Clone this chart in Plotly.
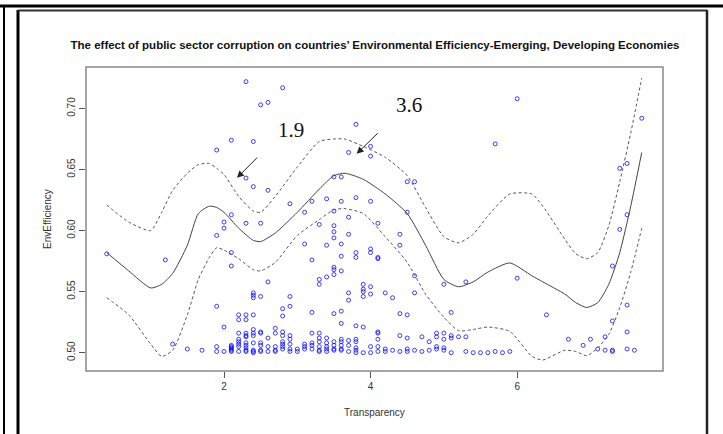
import plotly.graph_objects as go

# ---------------- data ----------------
levels = [0.4, 1.2, 1.3, 1.5, 1.7, 1.9, 2.0, 2.1, 2.2, 2.3, 2.4, 2.5, 2.6, 2.7, 2.8, 2.9,
          3.0, 3.1, 3.2, 3.3, 3.4, 3.5, 3.6, 3.7, 3.8, 3.9, 4.0, 4.1, 4.2, 4.3, 4.4, 4.5,
          4.6, 4.7, 4.8, 4.9, 5.0, 5.1, 5.2, 5.3, 5.4, 5.5, 5.6, 5.7, 5.8, 5.9, 6.0, 6.4,
          6.7, 6.9, 7.0, 7.1, 7.2, 7.3, 7.4, 7.5, 7.6, 7.7]
env_at_level = [
    [0.581], [0.576], [0.507], [0.503], [0.502],
    [0.666, 0.596, 0.538, 0.505, 0.501],
    [0.607, 0.602, 0.521, 0.501],
    [0.674, 0.613, 0.582, 0.571, 0.506, 0.505, 0.504, 0.503, 0.502, 0.501],
    [0.531, 0.527, 0.516, 0.511, 0.509, 0.507, 0.505, 0.501],
    [0.722, 0.643, 0.606, 0.531, 0.527, 0.516, 0.514, 0.513, 0.508, 0.506, 0.504, 0.502, 0.501],
    [0.673, 0.636, 0.549, 0.547, 0.545, 0.531, 0.519, 0.516, 0.514, 0.508, 0.502, 0.501, 0.500],
    [0.703, 0.606, 0.546, 0.517, 0.516, 0.508, 0.506, 0.502, 0.501],
    [0.705, 0.633, 0.558, 0.512, 0.505, 0.501],
    [0.520, 0.516, 0.505, 0.502, 0.501],
    [0.717, 0.536, 0.530, 0.517, 0.514, 0.509, 0.507, 0.505, 0.503],
    [0.622, 0.546, 0.538, 0.514, 0.511, 0.507, 0.503, 0.501],
    [0.503, 0.501],
    [0.615, 0.589, 0.507, 0.505, 0.503],
    [0.624, 0.576, 0.533, 0.516, 0.508, 0.506, 0.503],
    [0.605, 0.560, 0.556, 0.516, 0.512, 0.509, 0.505, 0.502, 0.501],
    [0.626, 0.588, 0.562, 0.512, 0.508, 0.505, 0.503, 0.501],
    [0.644, 0.616, 0.604, 0.599, 0.594, 0.570, 0.568, 0.564, 0.532, 0.509, 0.506, 0.503, 0.502],
    [0.644, 0.624, 0.589, 0.579, 0.567, 0.534, 0.524, 0.511, 0.509, 0.506, 0.503, 0.502],
    [0.664, 0.611, 0.597, 0.549, 0.543, 0.510, 0.506, 0.501],
    [0.687, 0.627, 0.582, 0.578, 0.522, 0.511, 0.509, 0.504, 0.502, 0.500],
    [0.556, 0.552, 0.550, 0.546, 0.521, 0.500],
    [0.669, 0.661, 0.624, 0.585, 0.582, 0.554, 0.548, 0.505, 0.500],
    [0.606, 0.578, 0.577, 0.517, 0.516, 0.511, 0.505, 0.501],
    [0.549, 0.503, 0.501],
    [0.545, 0.502],
    [0.597, 0.588, 0.532, 0.514, 0.501],
    [0.640, 0.615, 0.531, 0.512, 0.503, 0.501],
    [0.640, 0.563, 0.549, 0.502],
    [0.513, 0.501],
    [0.509, 0.502],
    [0.516, 0.513, 0.505, 0.503],
    [0.556, 0.516, 0.511, 0.504, 0.502],
    [0.533, 0.514, 0.512, 0.500],
    [0.513],
    [0.558, 0.513, 0.501],
    [0.500], [0.500], [0.500],
    [0.671, 0.501],
    [0.500], [0.501],
    [0.708, 0.561],
    [0.531], [0.511], [0.506], [0.511], [0.503],
    [0.513, 0.502],
    [0.571, 0.526, 0.502, 0.501],
    [0.651, 0.601],
    [0.655, 0.613, 0.539, 0.517, 0.503],
    [0.502],
    [0.692],
]

fit_x = [0.4, 0.7, 1.0, 1.15, 1.3, 1.5, 1.65, 1.8, 1.9, 2.0, 2.2, 2.4, 2.5, 2.7, 3.0, 3.3,
         3.5, 3.65, 3.9, 4.2, 4.5, 4.75, 5.0, 5.2, 5.4, 5.6, 5.9, 6.2, 6.35, 6.65, 6.8,
         6.95, 7.1, 7.25, 7.4, 7.55, 7.7]
fit_y = [0.582, 0.567, 0.553, 0.556, 0.565, 0.588, 0.614, 0.620, 0.619, 0.615, 0.602,
         0.592, 0.591, 0.598, 0.615, 0.634, 0.645, 0.647, 0.642, 0.630, 0.614, 0.588,
         0.560, 0.554, 0.558, 0.566, 0.5735, 0.563, 0.558, 0.548, 0.541, 0.537, 0.541,
         0.556, 0.582, 0.620, 0.664]
upper_y = [0.621, 0.607, 0.600, 0.615, 0.633, 0.647, 0.654, 0.655, 0.651, 0.646, 0.628,
           0.616, 0.615, 0.628, 0.652, 0.673, 0.675, 0.675, 0.669, 0.660, 0.645, 0.619,
           0.595, 0.590, 0.597, 0.612, 0.630, 0.630, 0.620, 0.593, 0.581, 0.577, 0.582,
           0.604, 0.640, 0.680, 0.725]
lower_y = [0.545, 0.531, 0.507, 0.497, 0.502, 0.531, 0.560, 0.578, 0.586, 0.584, 0.577,
           0.568, 0.567, 0.574, 0.596, 0.609, 0.617, 0.618, 0.614, 0.595, 0.574, 0.548,
           0.529, 0.518, 0.519, 0.521, 0.5175, 0.497, 0.494, 0.502, 0.501, 0.4975, 0.504,
           0.515, 0.537, 0.566, 0.602]

labels = ["1.9", "3.6"]
label_x = [2.91, 4.53]
label_y = [0.6825, 0.7025]
arrow_tip_x = [2.177, 3.81]
arrow_tip_y = [0.6432, 0.6629]
arrow_tail_x = [2.473, 4.119]
arrow_tail_y = [0.661, 0.681]

x_ticks = [2, 4, 6]
y_ticks = [0.50, 0.55, 0.60, 0.65, 0.70]

# ---------------- figure ----------------
pts_x, pts_y = [], []
for lv, ys in zip(levels, env_at_level):
    for v in ys:
        pts_x.append(lv)
        pts_y.append(v)

W, H = 723, 434
ML, MR, MT, MB = 86, 60, 67, 63
PW, PH = W - ML - MR, H - MT - MB


def px(X):
    return (X - ML) / PW


def py(Y):
    return (H - MB - Y) / PH


fig = go.Figure()
fig.add_trace(go.Scatter(
    x=pts_x, y=pts_y, mode="markers",
    marker=dict(symbol="circle-open", size=4, color="rgba(0,0,255,0.75)",
                line=dict(width=1, color="rgba(0,0,255,0.75)")),
    hoverinfo="x+y", showlegend=False))
for yy, dash, col in [(upper_y, "3px,2.5px", "#555555"), (lower_y, "3px,2.5px", "#555555"),
                      (fit_y, "solid", "#444444")]:
    fig.add_trace(go.Scatter(
        x=fit_x, y=yy, mode="lines",
        line=dict(color=col, width=1, dash=dash, shape="spline", smoothing=0.6),
        showlegend=False, hoverinfo="skip"))

annotations = []
for t, lx, ly in zip(labels, label_x, label_y):
    annotations.append(dict(x=lx, y=ly, xref="x", yref="y", text=t, showarrow=False,
                            font=dict(family="Liberation Serif, Times New Roman, serif",
                                      size=21, color="#111111")))
for tx, ty, sx, sy in zip(arrow_tip_x, arrow_tip_y, arrow_tail_x, arrow_tail_y):
    annotations.append(dict(x=tx, y=ty, ax=sx, ay=sy, xref="x", yref="y", axref="x", ayref="y",
                            text="", showarrow=True, arrowhead=2, arrowsize=1.4,
                            arrowwidth=1, arrowcolor="#222222"))
annotations.append(dict(x=0.5, y=py(412), xref="paper", yref="paper", text="Transparency",
                        xanchor="center", yanchor="middle", showarrow=False,
                        font=dict(family="Liberation Sans, Arial", size=10, color="#333333")))
annotations.append(dict(x=px(47), y=0.5, xref="paper", yref="paper", text="EnvEfficiency",
                        xanchor="center", yanchor="middle", textangle=-90, showarrow=False,
                        font=dict(family="Liberation Sans, Arial", size=10, color="#333333")))

shapes = [
    # plot box
    dict(type="rect", xref="paper", yref="paper", x0=0, y0=0, x1=1, y1=1,
         line=dict(color="#888888", width=1.5)),
    # outer frame lines
    dict(type="line", xref="paper", yref="paper", x0=px(0), x1=px(723), y0=py(6), y1=py(6),
         line=dict(color="#000000", width=3)),
    dict(type="line", xref="paper", yref="paper", x0=px(4), x1=px(4), y0=py(6), y1=py(434),
         line=dict(color="#000000", width=2)),
    dict(type="line", xref="paper", yref="paper", x0=px(18), x1=px(18), y0=py(10), y1=py(434),
         line=dict(color="#000000", width=3)),
    dict(type="line", xref="paper", yref="paper", x0=px(18), x1=px(707), y0=py(10.5), y1=py(10.5),
         line=dict(color="#333333", width=2)),
    dict(type="line", xref="paper", yref="paper", x0=px(707), x1=px(707), y0=py(10), y1=py(434),
         line=dict(color="#222222", width=2.5)),
]

fig.update_layout(
    width=W, height=H, margin=dict(l=ML, r=MR, t=MT, b=MB),
    paper_bgcolor="white", plot_bgcolor="white",
    title=dict(text="<b>The effect of public sector corruption on countries’ Environmental Efficiency-Emerging, Developing Economies</b>",
               xref="container", x=375 / W, xanchor="center", y=1 - 45 / H, yanchor="middle",
               font=dict(family="Liberation Sans, Arial", size=11.5, color="#111111")),
    xaxis=dict(range=[0.117, 7.99], tickvals=x_ticks, ticktext=[str(v) for v in x_ticks],
               showgrid=False, zeroline=False, showline=False, ticks="outside", ticklen=6,
               tickcolor="#555555", tickfont=dict(family="Liberation Sans, Arial", size=10, color="#333333")),
    yaxis=dict(range=[0.485, 0.734], tickvals=y_ticks, ticktext=["%.2f" % v for v in y_ticks],
               tickangle=-90, showgrid=False, zeroline=False, showline=False, ticks="outside",
               ticklen=6, tickcolor="#555555",
               tickfont=dict(family="Liberation Sans, Arial", size=10, color="#333333")),
    annotations=annotations, shapes=shapes, showlegend=False,
)

fig.write_html("out.html", config={"displayModeBar": False},
               post_script="document.body.style.margin='0';")
